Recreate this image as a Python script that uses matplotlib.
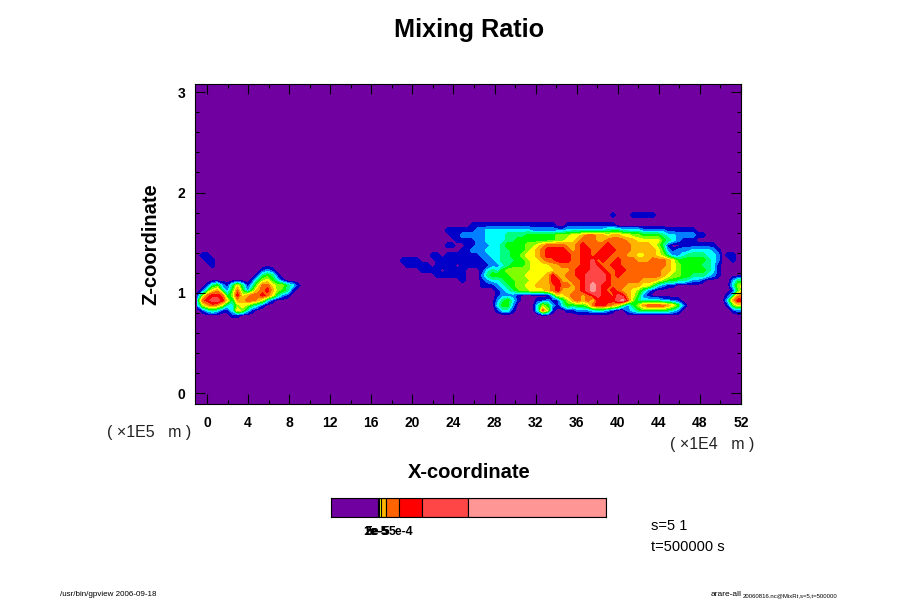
import numpy as np
from matplotlib import pyplot as plt

plt.rcParams['font.family'] = ['Liberation Sans', 'DejaVu Sans']

# hand read colour classes, one char per cell (hex digit = class number)
left_cloud = [
    "0110000000000000000000",
    "0011000000000000000000",
    "0001000000000000000000",
    "0000000000000121000000",
    "0000000000001454100000",
    "0000000000014675310000",
    "0014521474136997664310",
    "01478425952589a8654100",
    "159aa946a7899a97421000",
    "39abba7488998631000000",
    "2689863367643100000000",
    "0134311376310000000000",
    "0000000110000000000000",
]
main_cloud = [
    "0000000000 0000000000 0000000000 0000000000 0001000111 1100000000 00000",
    "0000000000 0000000000 0000000000 0000000000 0000000000 0000000000 00000",
    "0000000000 0000011111 1111111111 1100111111 1111000000 0000000000 00000",
    "0000000000 1111112233 3333333222 2222333333 3344433332 2222111111 00000",
    "0000000000 0112222233 3344445555 5566677899 8878877665 5554332222 11000",
    "0000000000 0011112233 3344555555 5566778999 8899998877 7775432111 00000",
    "0000000000 1100112223 3455556678 9999889a99 99a9999888 8764100111 11110",
    "0000000000 0001122233 3445556789 aaaa989aa9 9aaa999888 8875212223 33321",
    "0000000110 1111111223 3445567789 aaaaa99aa9 aaa9998877 8876422344 44332",
    "0111100011 1111111122 3444556778 99aaa99aab 9a99a99988 8999875555 55432",
    "0011111011 1101111112 2345556777 7889999aab a99aa99999 9999876555 54431",
    "0000011110 1111000134 3566666777 778889aaab ba99aa9999 9998876555 55431",
    "0000000011 1111000245 5556667777 8a8899aabb bba9a99999 9998766554 44321",
    "0000000000 0001000123 3455666778 8aa8899abb bba9999998 8876554432 21000",
    "0000000000 0000000111 2345667788 89a9989abc baa9998887 7532110000 00000",
    "0000000000 0000000000 1234566777 89a8889abc ba9a988764 2100000000 00000",
    "0000000000 0000000000 1222100000 037789989a baa9ba8752 1000000000 00000",
    "0000000000 0000000000 2453100011 2114689897 aaaabc9643 3332211000 00000",
    "0000000000 0000000000 3552000036 5213545569 aa98742468 9999875200 00000",
    "0000000000 0000000000 1331000039 6100112223 3321002345 5555432000 00000",
]
right_edge = [
    "01100",
    "00100",
    "00000",
    "00000",
    "00000",
    "00244",
    "00367",
    "00157",
    "01389",
    "038aa",
    "01577",
    "00122",
]

class_colors = ['#7000a0', '#0000c8', '#0080ff', '#00ffff', '#00ff80', '#00ff00', '#80ff00',
                '#ffff00', '#ffb400', '#ff6400', '#ff0000', '#ff4646', '#ff9696']

# colour bar: edges, in bar units
bar_edges = [0, 46.7, 48.3, 50.3, 55.3, 68.3, 91.3, 137.3, 275.3]
bar_colors = ['#7000a0', '#b4ff00', '#ffff00', '#ffb400', '#ff6400', '#ff0000', '#ff4646', '#ff9696']
bar_tick_pos = [45, 46, 47, 69.5]
bar_tick_labels = ['1e-5', '2e-5', '5e-5', '5e-4']

x_ticks = [0, 4, 8, 12, 16, 20, 24, 28, 32, 36, 40, 44, 48, 52]
y_ticks = [0, 1, 2, 3]

W, H = 900, 600
NCOL = 110
ROW0_PY = 210.5  # pixel height of first row centre
ROW_PX = 5.0


def put_block(field, rows, first_row, first_col):
    for r, line in enumerate(rows):
        line = line.replace(' ', '')
        for c, ch in enumerate(line):
            if first_col + c < NCOL:
                field[first_row + r, first_col + c] = int(ch, 16)


def px_text(px, py, s, **kw):
    kw.setdefault('ha', 'center')
    kw.setdefault('va', 'center')
    fig.text(px / W, 1 - py / H, s, **kw)


field = np.zeros((30, NCOL))
put_block(field, left_cloud, 9, 0)
put_block(field, main_cloud, 1, 40)
put_block(field, right_edge, 9, 105)

fig = plt.figure(figsize=(9, 6), dpi=100)
ax = fig.add_axes([195 / W, 1 - 404 / H, (741 - 195) / W, (404 - 84) / H])
ax.set_facecolor(class_colors[0])

x_grid = np.linspace(-0.93, 52.2, NCOL)
y_grid = (393.5 - (ROW0_PY + ROW_PX * np.arange(field.shape[0]))) / 100.4
levels = [-1] + [i + 0.5 for i in range(12)] + [20]
ax.contourf(x_grid, y_grid, field, levels=levels, colors=class_colors)

ax.set_xlim(-1.17, 52)
ax.set_ylim(-0.105, 3.08)
ax.set_xticks(x_ticks)
ax.set_xticks(np.arange(0, 53, 2), minor=True)
ax.set_yticks(y_ticks)
ax.set_yticks(np.arange(0, 3.01, 0.2), minor=True)
ax.tick_params(which='major', direction='in', length=7.2, width=0.8, top=True, right=True,
               labelsize=10)
ax.tick_params(which='minor', direction='in', length=3.2, width=0.8, top=True, right=True)
ax.tick_params(axis='x', which='major', pad=8.5)
ax.tick_params(axis='y', which='major', pad=7)
for lab in ax.get_xticklabels() + ax.get_yticklabels():
    lab.set_fontweight('bold')
for sp in ax.spines.values():
    sp.set_linewidth(0.8)

# colour bar
cax = fig.add_axes([331 / W, 1 - 516.5 / H, 275.3 / W, 18.5 / H])
for i, col in enumerate(bar_colors):
    cax.barh(0, bar_edges[i + 1] - bar_edges[i], left=bar_edges[i], height=1, color=col,
             edgecolor='black', linewidth=0.8)
cax.set_xlim(0, bar_edges[-1])
cax.set_ylim(-0.5, 0.5)
cax.set_yticks([])
cax.set_xticks(bar_tick_pos)
cax.set_xticklabels(bar_tick_labels, fontsize=8.8, fontweight='bold')
cax.tick_params(axis='x', length=0, pad=7)

px_text(469, 30, 'Mixing Ratio', fontsize=18.2, fontweight='bold')
px_text(469, 472, 'X-coordinate', fontsize=14.5, fontweight='bold')
px_text(151, 244, 'Z-coordinate', fontsize=14.5, fontweight='bold', rotation=90)
px_text(149, 433, '( ×1E5   m )', fontsize=11.5, color='#222222')
px_text(712, 445, '( ×1E4   m )', fontsize=11.5, color='#222222')
px_text(651, 526, 's=5 1', ha='left', fontsize=10.5)
px_text(651, 547, 't=500000 s', ha='left', fontsize=10.5)
px_text(60, 594, '/usr/bin/gpview 2006-09-18', ha='left', fontsize=5.8)
px_text(711, 594, 'arare-all', ha='left', fontsize=6)
px_text(743, 595.5, '20060816.nc@MixRt,s=5,t=500000', ha='left', fontsize=4.3)

plt.savefig('out.png', dpi=100)
